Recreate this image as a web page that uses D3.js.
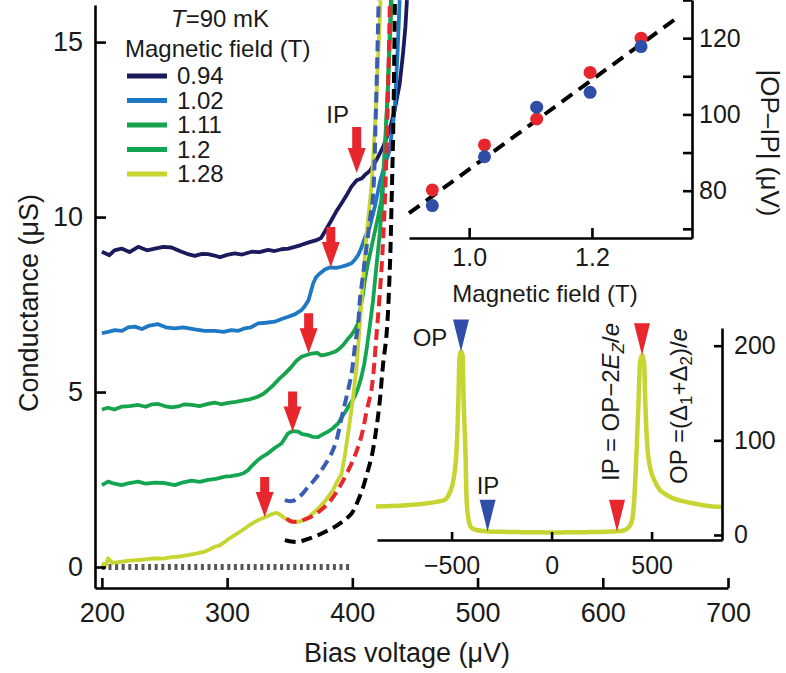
<!DOCTYPE html>
<meta charset="utf-8">
<style>
body { margin: 0; background: #fff; }
svg text { font-family: "Liberation Sans", Arial, sans-serif; font-size: 24px; fill: #1a1a1a; }
.axis path, .axis line { stroke: #000; stroke-width: 2.6; }
.axis text { font-size: 27px; }
.inset .axis text { font-size: 25px; }
.title { font-size: 27px; }
</style>
<body>
<svg id="chart" width="786" height="673"></svg>
<script src="https://cdnjs.cloudflare.com/ajax/libs/d3/7.8.5/d3.min.js"></script>
<script>
// main panel: conductance traces vs bias voltage, one per field
const fields = ['0.94', '1.02', '1.11', '1.2', '1.28']
const fieldColors = ['#1b1a5c', '#1f78c4', '#17a24b', '#12a653', '#c6d532']

const trace094 = [[200,9.01],[206,8.91],[210,9.05],[215.7,9.1],[222,9.0],[229,9.15],[236,9.05],[242.3,9.1],[249,9.15],[255.6,9.13],[263.6,9.01],[268,8.95],[274.2,8.89],[280,8.95],[284.8,8.94],[290,8.9],[294.2,8.85],[300,8.92],[306.1,8.96],[312,8.93],[319.5,9.01],[326,9.0],[332.7,9.06],[338,9.03],[343.4,9.08],[349,9.1],[354,9.15],[359,9.2],[364.6,9.27],[371.3,9.34],[375,9.4],[378,9.58],[383.3,9.91],[387,10.15],[391.3,10.39],[395,10.6],[399.3,10.87],[403.5,11.05],[407.3,11.1],[410,11.2],[414,11.32],[419.2,11.63],[424.5,12.0],[429.8,12.49],[433.8,13.06],[437.8,13.8],[440.5,14.68],[442.4,15.44],[443.6,16.2]]
const trace102 = [[200,6.68],[205,6.72],[210.4,6.77],[216,6.75],[221,6.85],[226.3,6.87],[232,6.8],[238,6.9],[244.9,6.94],[251,6.85],[258.3,6.82],[265,6.85],[274.2,6.79],[282,6.75],[290.2,6.75],[297,6.72],[303.5,6.77],[309,6.75],[314.1,6.82],[319,6.85],[324.7,6.96],[331,6.98],[338,7.01],[343,7.08],[348.7,7.15],[354,7.22],[359.4,7.34],[362,7.45],[365,7.62],[368.7,8.1],[371,8.28],[374.1,8.39],[378,8.5],[382,8.56],[387,8.55],[391.3,8.58],[395,8.62],[399.3,8.68],[402,8.78],[404.6,8.91],[407,9.1],[409.9,9.4],[413.9,9.72],[418,10.3],[422,11.0],[426,11.5],[429.8,11.91],[433.8,13.06],[436.2,14.77],[437.8,16.2]]
const trace111 = [[200,4.5],[205,4.55],[210,4.5],[215.7,4.58],[222,4.6],[229,4.63],[235,4.58],[240,4.65],[245,4.66],[250,4.6],[255.6,4.56],[262,4.6],[266,4.65],[271.6,4.63],[278,4.6],[284.8,4.66],[290,4.7],[295,4.65],[300.8,4.69],[307,4.72],[314.1,4.77],[319,4.8],[324.7,4.87],[329,4.95],[332.7,5.06],[337,5.2],[342,5.39],[346,5.52],[351.4,5.72],[355,5.88],[359.4,6.01],[363,6.05],[367.4,6.1],[372,6.12],[375,6.05],[378,6.06],[382,6.1],[386,6.15],[389,6.22],[392.6,6.34],[396,6.5],[399.3,6.63],[402,6.78],[404.6,6.96],[406.5,7.4],[408.5,7.8],[410,8.2],[412.5,8.68],[416.5,9.34],[420.5,10.0],[423.2,10.49],[426,11.9],[428.5,13.8],[430.8,16.2]]
const trace12 = [[200,2.34],[205,2.44],[210,2.38],[215.7,2.34],[222,2.4],[229,2.44],[235,2.38],[242.3,2.41],[250,2.4],[258.3,2.34],[265,2.42],[271.6,2.47],[278,2.43],[284.8,2.49],[291,2.52],[298.2,2.58],[303,2.6],[308.8,2.63],[313,2.68],[316.8,2.77],[320,2.9],[324.7,3.06],[328,3.15],[332.7,3.25],[338,3.4],[343.4,3.53],[348.7,3.82],[352,3.88],[356.7,3.87],[360,3.8],[364.6,3.77],[368,3.72],[372.6,3.71],[376,3.78],[380.6,3.87],[384,3.95],[388.6,4.1],[392,4.3],[395.3,4.49],[398,4.65],[401.9,4.87],[404.5,5.1],[407.3,5.44],[409.5,5.8],[411.3,6.2],[413.9,6.87],[416.5,7.6],[419.2,8.58],[421.9,9.53],[424,10.49],[427.5,13.0],[431.4,16.2]]
const trace128 = [[200,0.1],[203,0.05],[205,0.25],[208,0.12],[215.7,0.15],[222,0.18],[229,0.2],[235,0.22],[242.3,0.25],[249,0.24],[255.6,0.28],[262,0.3],[268.9,0.34],[275,0.38],[282.2,0.44],[286,0.5],[290.2,0.58],[294,0.62],[298.2,0.72],[302,0.82],[306.1,0.91],[310,1.0],[314.1,1.1],[318,1.2],[322.1,1.29],[326,1.36],[330.1,1.42],[335,1.5],[339.4,1.55],[343,1.48],[346,1.39],[350,1.33],[354,1.29],[358,1.3],[362,1.36],[366,1.45],[370,1.58],[374,1.72],[378,1.87],[381,2.02],[384.6,2.2],[388,2.45],[391.3,2.65],[393.9,3.15],[396.6,3.82],[399.3,4.49],[400.7,4.87],[403.4,5.72],[407.4,7.63],[411.4,9.53],[415.4,10.9],[419,13.2],[422.5,16.2]]
const traces = [trace094, trace102, trace111, trace12, trace128]

// theory curves (dashed)
const theoryBlue = [[346.1,1.91],[350,1.88],[354.1,1.91],[359,2.05],[364.7,2.29],[370,2.5],[375.4,2.77],[383.4,3.25],[387.4,3.63],[391,4.2],[395.4,4.87],[399.4,5.53],[402,6.29],[404.7,6.96],[406,7.63],[408.7,8.39],[411.4,9.15],[414,9.91],[416.5,10.6],[418.8,13.0],[421,16.2]]
const theoryRed = [[347.5,1.39],[350,1.32],[354.1,1.29],[360,1.33],[367.5,1.44],[374,1.6],[380.7,1.82],[386,2.07],[391.4,2.39],[399.4,2.96],[404.7,3.44],[408.4,3.91],[411.6,4.49],[415.4,5.1],[419.4,6.68],[423.4,8.58],[426,10.49],[428,12.77],[430,16.2]]
const theoryBlack = [[346.1,0.77],[351,0.73],[356.8,0.72],[363,0.78],[370.1,0.87],[378,1.0],[386.1,1.15],[393,1.32],[399.4,1.53],[404,1.85],[408.7,2.29],[412,2.7],[415.4,3.15],[419.4,4.01],[422,4.77],[424.4,5.74],[427.4,6.68],[430,8.58],[431.4,10.49],[432.8,12.77],[434,16.2]]
const theories = [theoryBlue, theoryRed, theoryBlack]
const theoryColors = ['#3a5cb4', '#e8262d', '#000']

// IP arrow tips
const ipBias = [403.5, 382.8, 365.1, 352.3, 330]
const ipCond = [11.26, 8.57, 6.11, 3.87, 1.43]

const biasTicks = [200, 300, 400, 500, 600, 700]
const condTicks = [0, 5, 10, 15]

// inset 1: |OP-IP| vs field
const gapField = [0.94, 1.025, 1.11, 1.197, 1.28]
const gapRed = [80.2, 92.0, 98.8, 111.0, 120.0]
const gapBlue = [76.1, 88.9, 101.9, 105.8, 117.8]
const fitField = [0.902, 1.335]
const fitGap = [74.1, 124.9]
const fieldTicks = [1.0, 1.2]
const gapTicks = [70, 80, 90, 100, 110, 120, 130]

// inset 2: full spectrum at 1.28 T
const spectrum = [[-878,30],[-800,30.5],[-711,31.7],[-640,33],[-578,35],[-536,37],[-511,44],[-491,58],[-475,90],[-466,143],[-461,185],[-453,194],[-445,190],[-440,143],[-431,90],[-425,37],[-418,20],[-411,12],[-400,7.5],[-378,5.3],[-330,4],[-250,3.3],[-150,3],[-50,2.8],[0,2.6],[80,2.8],[180,3],[280,3.5],[330,4],[355,4.5],[380,7],[397,12],[406,20],[413,37],[425,90],[435,143],[442,182],[452,190],[463,180],[468,143],[474,110],[480,90],[492,72],[505,62],[520,55],[540,48],[570,43],[605,39],[650,36],[705,33.5],[760,31.5],[805,30],[850,29.5]]
const markX = [-453, -320, 327, 452]
const markY = [194, 3.5, 3.5, 190]
const markColors = ['#2e4ea8', '#2e4ea8', '#e8262d', '#e8262d']
const spectTicksX = [-500, 0, 500]
const spectTicksY = [0, 100, 200]

const svg = d3.select('#chart')

// ---------- main panel ----------
const x = d3.scaleLinear().domain([194.5, 700]).range([95, 728])
const y = d3.scaleLinear().domain([-0.6, 16.06]).range([588, 5])

svg.append('clipPath').attr('id', 'mainclip')
  .append('rect').attr('x', 95).attr('y', 0).attr('width', 633).attr('height', 588)

const line = d3.line().x(d => x(d[0])).y(d => y(d[1]))
const plot = svg.append('g').attr('clip-path', 'url(#mainclip)')

// zero reference (dotted)
plot.append('path')
  .attr('d', line([[200, 0], [400, 0]]))
  .attr('stroke', '#555').attr('stroke-width', 6).attr('stroke-dasharray', '3,3.6').attr('fill', 'none')

traces.forEach((t, i) => {
  plot.append('path').attr('d', line(t))
    .attr('fill', 'none').attr('stroke', fieldColors[i]).attr('stroke-width', 3.8)
    .attr('stroke-linejoin', 'round')
})

const smooth = d3.line().x(d => x(d[0])).y(d => y(d[1])).curve(d3.curveCatmullRom)
theories.forEach((t, i) => {
  plot.append('path').attr('d', smooth(t))
    .attr('fill', 'none').attr('stroke', theoryColors[i]).attr('stroke-width', 4)
    .attr('stroke-dasharray', '11,6')
})

// IP arrows
ipBias.forEach((b, i) => {
  const tx = x(b), ty = y(ipCond[i])
  const h = i === 0 ? 46 : 40
  const pts = [[tx, ty], [tx - 9, ty - 25], [tx - 4.5, ty - 25], [tx - 4.5, ty - h], [tx + 4.5, ty - h], [tx + 4.5, ty - 25], [tx + 9, ty - 25]]
  svg.append('polygon').attr('points', pts.map(p => p.join(',')).join(' ')).attr('fill', '#e8262d')
})
svg.append('text').attr('x', x(ipBias[0]) - 19).attr('y', y(ipCond[0]) - 50).attr('text-anchor', 'middle').text('IP')

svg.append('g').attr('class', 'axis').attr('transform', 'translate(0,588)')
  .call(d3.axisBottom(x).tickValues(biasTicks).tickSizeInner(-10).tickSizeOuter(0).tickPadding(15))
svg.append('g').attr('class', 'axis').attr('transform', 'translate(95,0)')
  .call(d3.axisLeft(y).tickValues(condTicks).tickSizeInner(-11).tickSizeOuter(0).tickPadding(12))

svg.append('text').attr('class', 'title').attr('x', 407).attr('y', 662).attr('text-anchor', 'middle').text('Bias voltage (μV)')
svg.append('text').attr('class', 'title').attr('transform', 'translate(38,303) rotate(-90)').attr('text-anchor', 'middle').text('Conductance (μS)')

// legend
const tl = svg.append('text').attr('x', 220).attr('y', 27).attr('text-anchor', 'middle')
tl.append('tspan').attr('font-style', 'italic').text('T')
tl.append('tspan').text('=90 mK')
svg.append('text').attr('x', 125).attr('y', 57).text('Magnetic field (T)')
fields.forEach((f, i) => {
  const ly = 76 + i * 24.5
  svg.append('line').attr('x1', 127).attr('x2', 167).attr('y1', ly).attr('y2', ly)
    .attr('stroke', fieldColors[i]).attr('stroke-width', 5)
  svg.append('text').attr('x', 177).attr('y', ly).attr('dy', '0.35em').text(f)
})

// ---------- inset 1 ----------
const ins1 = svg.append('g').attr('class', 'inset')
const xB = d3.scaleLinear().domain([0.902, 1.363]).range([409, 692])
const yB = d3.scaleLinear().domain([67.6, 130]).range([238, 0])

ins1.append('path')
  .attr('d', d3.line().x((d, i) => xB(d)).y((d, i) => yB(fitGap[i]))(fitField))
  .attr('stroke', '#000').attr('stroke-width', 4).attr('stroke-dasharray', '13,8').attr('fill', 'none')
ins1.selectAll('.dr').data(gapField).join('circle')
  .attr('cx', d => xB(d)).attr('cy', (d, i) => yB(gapRed[i])).attr('r', 6.5).attr('fill', '#e8262d')
ins1.selectAll('.db').data(gapField).join('circle')
  .attr('cx', d => xB(d)).attr('cy', (d, i) => yB(gapBlue[i])).attr('r', 6.5).attr('fill', '#2e4ea8')

ins1.append('g').attr('class', 'axis').attr('transform', 'translate(0,238)')
  .call(d3.axisBottom(xB).tickValues(fieldTicks).tickFormat(d3.format('.1f')).tickSizeInner(-10).tickSizeOuter(0).tickPadding(10))
ins1.append('g').attr('class', 'axis').attr('transform', 'translate(692,0)')
  .call(d3.axisRight(yB).tickValues(gapTicks).tickFormat(d => d % 20 === 0 ? d : '').tickSizeInner(-9).tickSizeOuter(0).tickPadding(7))
ins1.append('text').attr('x', 545).attr('y', 302).attr('text-anchor', 'middle').text('Magnetic field (T)')
ins1.append('text').attr('transform', 'translate(761,143) rotate(90)').attr('text-anchor', 'middle')
  .style('font-size', '26px').text('|OP–IP| (μV)')

// ---------- inset 2 ----------
const ins2 = svg.append('g').attr('class', 'inset')
const xC = d3.scaleLinear().domain([-873, 852]).range([377, 722])
const yC = d3.scaleLinear().domain([-5.3, 218.7]).range([540, 328])

ins2.append('path')
  .attr('d', d3.line().x(d => xC(d[0])).y(d => yC(d[1])).curve(d3.curveMonotoneX)(spectrum))
  .attr('fill', 'none').attr('stroke', '#c6d532').attr('stroke-width', 4.5)

markX.forEach((m, i) => {
  const tx = xC(m), ty = yC(markY[i])
  ins2.append('polygon')
    .attr('points', [[tx, ty], [tx - 8, ty - 32], [tx + 8, ty - 32]].map(p => p.join(',')).join(' '))
    .attr('fill', markColors[i])
})
ins2.append('text').attr('x', 430).attr('y', 346).attr('text-anchor', 'middle').text('OP')
ins2.append('text').attr('x', 488).attr('y', 494).attr('text-anchor', 'middle').text('IP')

const r1 = ins2.append('text').attr('transform', 'translate(619,402) rotate(-90)').attr('text-anchor', 'middle')
r1.append('tspan').text('IP = OP−2')
r1.append('tspan').attr('font-style', 'italic').text('E')
r1.append('tspan').attr('font-style', 'italic').attr('font-size', 17).attr('dy', 5).text('Z')
r1.append('tspan').attr('dy', -5).text('/')
r1.append('tspan').attr('font-style', 'italic').text('e')

const r2 = ins2.append('text').attr('transform', 'translate(687,406) rotate(-90)').attr('text-anchor', 'middle')
r2.append('tspan').text('OP =(Δ')
r2.append('tspan').attr('font-size', 17).attr('dy', 5).text('1')
r2.append('tspan').attr('dy', -5).text('+Δ')
r2.append('tspan').attr('font-size', 17).attr('dy', 5).text('2')
r2.append('tspan').attr('dy', -5).text(')/')
r2.append('tspan').attr('font-style', 'italic').text('e')

ins2.append('g').attr('class', 'axis').attr('transform', 'translate(0,540)')
  .call(d3.axisBottom(xC).tickValues(spectTicksX).tickSizeInner(-8).tickSizeOuter(0).tickPadding(16))
ins2.append('g').attr('class', 'axis').attr('transform', 'translate(722,0)')
  .call(d3.axisRight(yC).tickValues(spectTicksY).tickSizeInner(-8).tickSizeOuter(0).tickPadding(12))
</script>
</body>
